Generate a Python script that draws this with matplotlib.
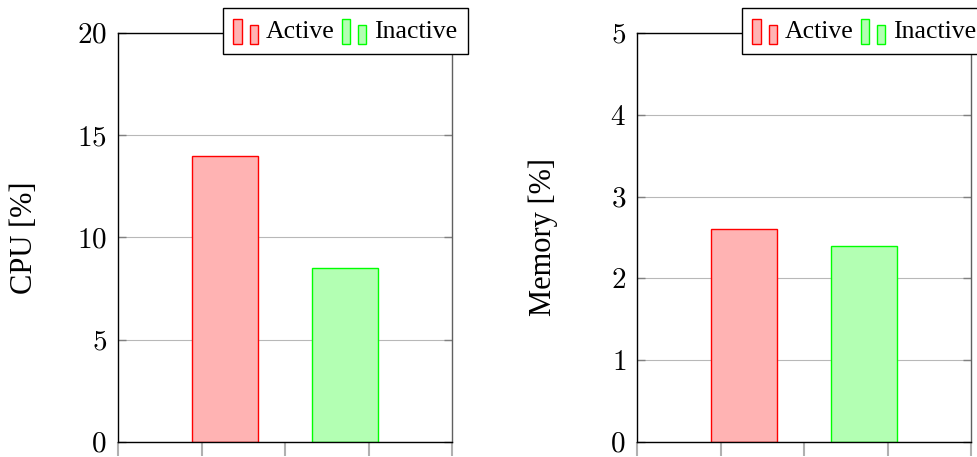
import matplotlib
matplotlib.use("Agg")
import matplotlib.pyplot as plt
from matplotlib.patches import Rectangle
from matplotlib.legend_handler import HandlerBase
from matplotlib.ticker import FuncFormatter

plt.rcParams['font.family'] = ['Liberation Serif', 'DejaVu Serif']
plt.rcParams['mathtext.fontset'] = 'cm'

# measurements
states = ["Active", "Inactive"]
cpu = [14, 8.5]
memory = [2.6, 2.4]
panels = [("CPU [%]", cpu, 20, 5), ("Memory [%]", memory, 5, 1)]

fills = ["#ffb3b3", "#b3ffb3"]
edges = ["#ff0000", "#00ff00"]


class TwoBarHandler(HandlerBase):
    # pgfplots-style ybar legend image: two small bars
    def create_artists(self, legend, orig_handle, xdescent, ydescent,
                       width, height, fontsize, trans):
        bw = width * 0.34
        x0 = -xdescent
        y0 = -ydescent - 0.2 * height
        fc = orig_handle.get_facecolor()
        ec = orig_handle.get_edgecolor()
        r1 = Rectangle((x0, y0), bw, height * 1.2, fc=fc, ec=ec, lw=1, transform=trans)
        r2 = Rectangle((x0 + width - bw, y0), bw, height * 0.9, fc=fc, ec=ec, lw=1, transform=trans)
        return [r1, r2]


fig = plt.figure(figsize=(9.77, 4.57), dpi=100)
lefts = [118 / 977, 637 / 977]
shift = 0.72
bw = 0.79

for left, (ylabel, vals, ymax, step) in zip(lefts, panels):
    ax = fig.add_axes([left, 15 / 457, 334 / 977, 409 / 457])
    handles = []
    for i, v in enumerate(vals):
        b = ax.bar(2 + (i - 0.5) * 2 * shift, v, width=bw, color=fills[i],
                   edgecolor=edges[i], linewidth=1, zorder=3, label=states[i])
        handles.append(b.patches[0])
    ax.set_xlim(0, 4)
    ax.set_ylim(0, ymax)
    ax.set_xticks(range(5))
    ax.set_xticklabels([])
    ax.set_yticks(range(0, ymax + 1, step))
    ax.yaxis.set_major_formatter(FuncFormatter(lambda v, p: "$%d$" % v))
    ax.tick_params(axis='x', direction='out', length=10, width=1.5, color='#b0b0b0')
    ax.tick_params(axis='y', direction='in', length=6, width=1, color='#808080',
                   labelsize=21, pad=8, right=True)
    ax.grid(axis='y', color='#b8b8b8', linewidth=0.8, zorder=0)
    for s in ax.spines.values():
        s.set_linewidth(1)
        s.set_zorder(4)
    ax.spines['right'].set_color('#606060')
    ax.set_ylabel(ylabel, fontsize=22, va='center')
    ax.yaxis.set_label_coords(-0.28, 0.5)
    leg = ax.legend(handles, states, ncol=2, loc='upper right',
                    bbox_to_anchor=(1.048, 1.061), borderaxespad=0,
                    fontsize=18.5, handlelength=0.95, handleheight=0.9,
                    handletextpad=0.3, columnspacing=0.3, borderpad=0.42,
                    fancybox=False, framealpha=1, edgecolor='black',
                    handler_map={Rectangle: TwoBarHandler()})
    leg.get_frame().set_linewidth(1)
    leg.set_zorder(5)

fig.savefig("out.png", dpi=100)
